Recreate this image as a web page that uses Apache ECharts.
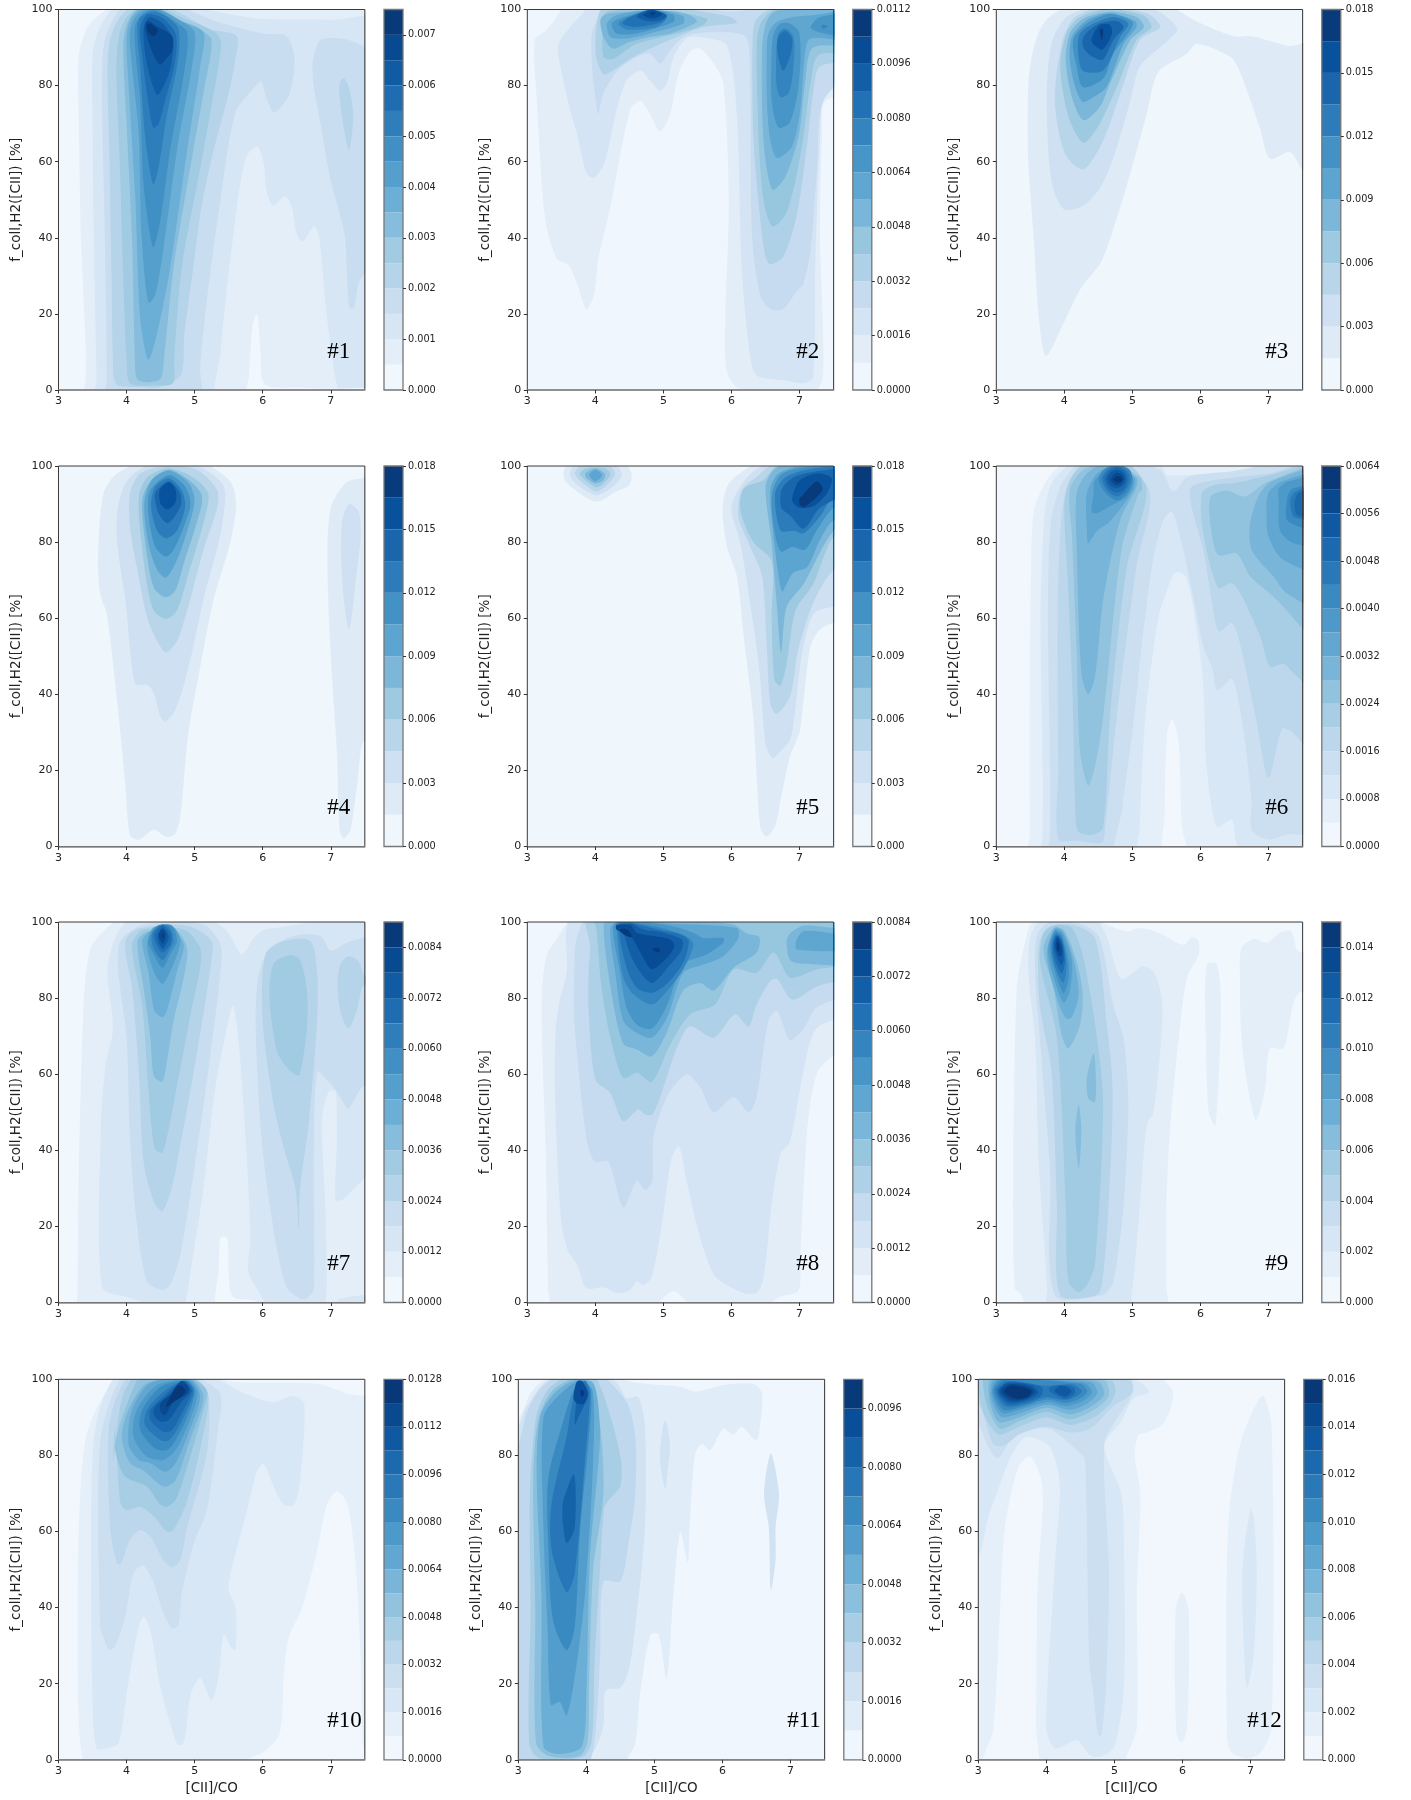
<!DOCTYPE html>
<html><head><meta charset="utf-8">
<style>html,body{margin:0;padding:0;background:#fff}#c{width:1411px;height:1800px}</style>
<script src="https://cdn.jsdelivr.net/npm/echarts@6/dist/echarts.min.js"></script></head>
<body><div id="c"></div>
<script>
// Each contour: [bandIndex, x1,y1, x2,y2, ...] in data units ([CII]/CO, f_coll %), painted in order over band 0.
const xTicks=[3,4,5,6,7];
const yTicks=[0,20,40,60,80,100];
const labels=['#1','#2','#3','#4','#5','#6','#7','#8','#9','#10','#11','#12'];
const cbStep=[0.0005,0.0008,0.0015,0.0015,0.0015,0.0004,0.0006,0.0006,0.001,0.0008,0.0008,0.001];
const cbBands=[15,14,12,12,12,16,15,14,15,16,13,16];
const cbTicks1=[0,0.001,0.002,0.003,0.004,0.005,0.006,0.007];
const cbTicks2=[0,0.0016,0.0032,0.0048,0.0064,0.008,0.0096,0.0112];
const cbTicks3=[0,0.003,0.006,0.009,0.012,0.015,0.018];
const cbTicks4=[0,0.003,0.006,0.009,0.012,0.015,0.018];
const cbTicks5=[0,0.003,0.006,0.009,0.012,0.015,0.018];
const cbTicks6=[0,0.0008,0.0016,0.0024,0.0032,0.004,0.0048,0.0056,0.0064];
const cbTicks7=[0,0.0012,0.0024,0.0036,0.0048,0.006,0.0072,0.0084];
const cbTicks8=[0,0.0012,0.0024,0.0036,0.0048,0.006,0.0072,0.0084];
const cbTicks9=[0,0.002,0.004,0.006,0.008,0.01,0.012,0.014];
const cbTicks10=[0,0.0016,0.0032,0.0048,0.0064,0.008,0.0096,0.0112,0.0128];
const cbTicks11=[0,0.0016,0.0032,0.0048,0.0064,0.008,0.0096];
const cbTicks12=[0,0.002,0.004,0.006,0.008,0.01,0.012,0.014,0.016];
const cbDigits=[3,4,3,3,3,4,4,4,3,4,4,3];

const contours1=[
[1,3.4,-4,3.4,3,3.4,12,3.33,40,3.3,70,3.3,88,3.45,96,3.8,101,4.2,104,7.9,104,7.9,-4],
[2,3.56,-4,3.56,3,3.55,12,3.52,40,3.5,70,3.5,88,3.6,95,3.85,101,4.5,104,5.2,100,5.6,98.5,6,97.5,7,97.3,7.9,96.8,7.9,-4],
[1,5.35,-4,5.38,10,5.57,41,5.75,61,5.92,64,6.01,60,6.06,52,6.16,48.5,6.33,51,6.43,48,6.5,41,6.59,39,6.75,43,6.83,40,6.92,23.5,7,11,7.04,6,7.07,-4],
[0,5.78,-4,5.8,4,5.85,17,5.92,20,5.97,10,6.03,1.5,6.6,0.6,7.1,0.4,7.5,0.6,7.9,0.8,7.9,-4],
[3,3.71,-4,3.71,3,3.7,20,3.67,50,3.64,80,3.68,92,3.9,100,4.3,104,4.9,100,5.3,97,6,93.7,6.35,93,6.47,87,6.4,78,6.25,74,6.15,73,6.05,77,5.97,81,5.85,79,5.6,73,5.38,50,5.18,23.5,5.08,6,5.07,-4],
[3,6.74,87,6.85,92,7.04,92.5,7.34,91.5,7.9,85,7.9,40,7.43,29,7.34,21.5,7.27,21.7,7.2,41,7,55,6.85,70,6.74,81],
[4,7.13,80.5,7.19,82,7.27,79.5,7.33,72,7.27,63,7.19,69,7.13,77],
[4,4.2,0.8,3.85,1.5,3.8,8,3.78,30,3.75,60,3.72,85,3.77,93,3.95,99,4.3,102,4.8,99,5.2,95,5.62,93,5.6,87,5.5,78,5.28,63,5.1,48,4.98,32,4.85,15,4.8,4,4.5,0.8],
[5,4.4,1.2,4.05,1.8,4,8,3.95,30,3.9,60,3.85,85,3.9,94,4.05,99,4.35,101.5,4.8,98,5.3,94,5.39,91,5.25,75,5.08,58,4.81,32,4.7,8,4.68,1.8],
[6,4.3,2,4.15,3,4.12,10,4.08,40,4,70,3.95,90,4,96,4.15,100,4.4,101,4.8,97,5.1,94.5,5.25,92,5.15,80,4.98,63,4.69,32,4.55,8,4.5,3],
[7,4.32,8,4.2,19,4.13,50,4.03,80,4,93,4.08,98,4.3,100.8,4.8,97,5.13,94,5.08,85,4.89,63,4.64,32,4.45,15],
[8,4.32,23,4.22,41,4.18,67,4.08,85,4.05,94,4.15,98.5,4.4,100.4,4.8,97,5,94,4.96,85,4.74,63,4.54,37,4.42,25],
[9,4.39,37.5,4.25,54,4.2,76,4.13,89,4.13,96,4.25,99,4.4,100,4.7,97,4.89,94,4.86,85,4.64,63,4.5,45],
[10,4.39,54,4.27,67,4.2,85,4.16,94.5,4.2,98,4.4,99.5,4.6,98,4.76,95,4.76,87,4.59,72,4.47,58.5],
[11,4.39,69,4.3,78,4.23,88,4.2,95,4.3,98.7,4.55,97.5,4.73,93,4.7,85,4.55,75,4.47,70],
[12,4.45,77.5,4.32,84,4.25,92,4.27,96.5,4.35,98,4.55,96,4.68,92,4.65,85,4.55,80],
[13,4.49,85.5,4.35,90,4.27,95.5,4.32,97,4.45,95.5,4.67,93,4.67,89,4.6,87.5],
[14,4.3,96,4.35,96.2,4.46,94.5,4.4,93,4.32,94]
];
const contours2=[
[1,3.11,92,3.14,76,3.26,45.4,3.43,34.5,3.6,33,3.73,28,3.87,21.3,3.98,25,4.04,34,4.22,48,4.51,73.5,4.66,76,4.8,72.6,4.95,68,5.1,72.6,5.22,83,5.39,89,5.54,89.7,5.74,85.8,5.88,80.5,5.96,50,5.91,19,5.93,5,6.13,0.3,7.25,0.1,7.35,6,7.3,41,7.33,67,7.38,76,7.9,78,7.9,104,3.6,104,3.5,100,3.28,94.5],
[2,3.46,87.5,3.63,73.5,3.73,67.4,3.87,57,3.98,55.7,4.14,60,4.31,73.5,4.46,81.4,4.66,84,4.8,81.4,4.95,78.6,5.05,80.5,5.15,87.5,5.34,92.4,5.59,92.6,5.93,90.6,6.08,72,6.15,32,6.27,9.5,6.37,3.8,6.81,2.5,7.06,1.8,7.2,3.3,7.23,32,7.3,65.6,7.4,81.4,7.9,84,7.9,104,3.85,104,3.85,100,3.63,95.4,3.46,91],
[3,3.95,93.7,3.95,85,4,77,4.04,72.6,4.12,78,4.31,83.6,4.6,87.5,4.8,88.4,4.95,85.8,5.1,89.3,5.3,92.8,5.69,94,6.2,93,6.27,85,6.3,41,6.42,25,6.57,21.3,6.76,21.3,6.96,26,7.06,28,7.16,36.7,7.26,58.6,7.35,76,7.9,87,7.9,104,6.3,100,5.9,99.5,4.2,104,4.07,99],
[4,4.02,96.3,4.01,87.5,4.12,83,4.26,84,4.51,87,4.8,89.7,5.2,92.8,5.59,95.4,6.08,96.5,5.98,98,5.59,99.4,5.1,100.5,4.12,100.5],
[5,4.07,97.2,4.1,93.7,4.12,87.5,4.26,87,4.56,90.6,4.8,92,5.2,93.7,5.59,96,5.64,97.6,5.1,99.6,4.2,99.6],
[6,4.08,97.5,4.12,92.8,4.26,89.7,4.51,91.5,4.8,92.8,5.1,93.7,5.49,96.8,5.39,98.5,5.1,99.6,4.2,99],
[7,4.17,96.3,4.22,92.8,4.46,92.4,4.8,93.7,5.29,96.3,5.29,98.2,4.9,99.9,4.31,98.5],
[8,4.24,96.3,4.31,93.7,4.6,93.7,5.15,96.8,5.15,98.5,4.85,99.8,4.41,98],
[9,4.34,96.3,4.46,94.7,4.9,95.4,5.05,98,4.8,99.5,4.46,97.9],
[10,4.4,96.3,4.56,95.4,4.95,96.5,5.05,98.2,4.8,99.8,4.51,98],
[11,4.61,98,4.75,97,4.95,97.2,5.05,98.5,4.83,100,4.66,99],
[12,4.7,98.5,4.85,97.6,4.98,98.8,4.83,99.8],
[13,4.8,99,4.84,98.6,4.88,99,4.84,99.3],
[4,6.31,92,6.32,67,6.42,45,6.5,35,6.57,33,6.76,35,6.96,46,7.1,63,7.2,78,7.3,85,7.9,87.5,7.9,104,6.9,103,6.5,99.5,6.35,97],
[5,6.37,91,6.4,65.6,6.47,50,6.6,43,6.79,46,6.94,55,7.06,67,7.16,80.5,7.28,88,7.9,89.3,7.9,104,6.9,103,6.55,99,6.42,96],
[6,6.45,90,6.47,65.6,6.6,52.7,6.79,56,6.99,67,7.08,80.5,7.2,90,7.9,91,7.9,102,6.9,101,6.6,99,6.5,96],
[7,6.52,91,6.52,76,6.57,65.6,6.67,61,6.89,64,7.01,73.5,7.08,88.4,7.16,92.4,7.9,92,7.9,99.5,7.2,98.5,6.9,98,6.65,96.5,6.55,94],
[8,6.59,89,6.59,76,6.69,69,6.86,70.4,6.99,80.5,7,93.7,6.86,96.3,6.72,96.3,6.62,93.7],
[8,7.16,95.4,7.3,98,7.9,98.8,7.9,92.5,7.35,93.7,7.2,94.6],
[9,6.66,89,6.66,80.5,6.72,77,6.84,78,6.91,85,6.91,92.8,6.79,95,6.69,93.7],
[10,6.76,83.9,6.87,88.4,6.89,92.4,6.79,94.4,6.69,92.8,6.67,89.3],
[9,7.33,96,7.42,95.5,7.33,95]
];
const contours3=[
[1,3.73,9,3.62,20,3.55,40,3.47,60,3.47,80,3.55,90,3.72,97,4.1,101,5.5,101,5.95,96.8,6.49,93,6.75,93,7.07,91.5,7.32,90.4,7.9,92,7.9,55,7.5,58,7.32,62.5,7.02,60.8,6.87,69,6.58,83.6,6.44,87.5,5.95,91,5.8,88.4,5.38,83.6,5.21,72.6,4.97,57,4.82,48,4.55,34,4.25,27,4,18],
[2,4.28,48.5,3.99,47.5,3.81,55,3.74,76,3.81,91,4.03,98,4.38,100.3,5.31,100,5.66,95,5.5,91.5,5.11,85,4.97,76,4.72,61,4.52,53],
[3,4.28,58,4.01,62,3.86,76,3.96,91,4.13,97.6,4.52,100.5,5.21,99,5.41,95.4,5.11,92,4.87,80.5,4.57,65.6],
[4,4.28,65,4.06,71.8,3.94,85,4.03,93.7,4.23,98,4.62,100,5.16,98.5,5.28,95.4,5.06,92,4.77,79.6,4.52,70],
[5,4.28,70.9,4.11,77,4.02,86.7,4.08,93.7,4.28,97.6,4.67,99.4,5.06,98,5.17,95.4,4.97,92,4.67,80.5,4.52,74.4],
[6,4.27,75.7,4.16,79.6,4.08,86.7,4.11,92.8,4.33,97.2,4.67,99,5.04,97,5.06,95.4,4.87,91,4.62,79.6,4.43,77],
[7,4.27,79.6,4.18,85,4.13,92,4.33,96.3,4.67,98.8,5,96.8,4.97,94.6,4.72,88.4,4.57,81.8],
[8,4.27,83.9,4.2,89.3,4.23,93.7,4.43,96.3,4.72,98,4.94,96.3,4.82,92.8,4.57,84],
[9,4.28,90,4.28,92.8,4.48,96,4.77,97,4.87,95.4,4.72,92,4.56,86.8,4.38,88],
[10,4.4,92.4,4.52,95.9,4.67,95.9,4.7,93.7,4.56,89.5,4.42,91],
[11,4.52,94.6,4.56,95,4.57,93.7,4.55,92]
];
const contours4=[
[1,4.18,1.8,4.05,3,3.98,16.6,3.86,38.5,3.71,61,3.61,66.5,3.58,76,3.66,92.8,3.86,98,4.25,101,5.08,101,5.52,96,5.61,90,5.52,79.7,5.28,65,5.08,47,4.91,30,4.79,8,4.72,3.5,4.59,2.5,4.4,4.4],
[1,7.19,2.2,7.13,4.4,7.09,25,7,50,6.95,76,7,89,7.19,95,7.36,96.5,7.9,96.5,7.9,20,7.5,28,7.39,16.6,7.29,4.4],
[2,7.27,57,7.17,69,7.16,85,7.27,90,7.41,88,7.44,82,7.39,73.5],
[2,4.57,32.8,4.5,34,4.4,40.3,4.3,42.5,4.14,42.5,4.08,47,3.98,65,3.86,80,3.87,89,4,96,4.3,100,5.03,100,5.38,96,5.45,92.8,5.38,82,5.13,65,4.91,47,4.72,36],
[3,4.58,51,4.45,54,4.3,60.4,4.15,73.5,4.05,84,4.05,92.8,4.2,98,4.59,100,5.03,99,5.33,93.7,5.33,89,5.13,78,4.89,62,4.74,54],
[4,4.58,59.8,4.4,62,4.3,69,4.2,83,4.18,92,4.3,97,4.62,99.4,4.98,97,5.2,92.8,5.13,85,4.94,73.5,4.74,62],
[5,4.58,65.5,4.4,68,4.27,80.5,4.23,91,4.35,96,4.62,99,4.94,96,5.11,92,5.03,85,4.84,74.4,4.72,67.4],
[6,4.58,70.7,4.45,72.7,4.32,79.7,4.26,90,4.37,96.3,4.62,98.8,4.91,95.6,5,91,4.91,84,4.74,75.3],
[7,4.58,76.2,4.42,78.8,4.32,87.6,4.35,93.7,4.62,97.6,4.86,94.6,4.94,90,4.84,84,4.69,78],
[8,4.58,81,4.45,83,4.36,89.3,4.42,94.6,4.62,96.8,4.81,93.7,4.86,89.3,4.74,83],
[9,4.61,85,4.47,87.6,4.42,92.8,4.62,96,4.79,92.8,4.79,89.3],
[10,4.61,88.6,4.5,90,4.49,93.7,4.62,95.7,4.72,93.7,4.72,90.6]
];
const contours5=[
[1,4.02,90.6,3.73,93.3,3.55,96.3,3.54,99,3.63,101,4.41,101,4.53,98,4.5,95,4.31,93.3],
[2,4.02,92.3,3.77,94.6,3.63,97.3,3.68,100,4.31,100,4.39,97.6,4.26,94.6],
[3,4.02,93.3,3.85,95,3.7,97.8,3.77,99.8,4.22,99.8,4.29,97.8,4.17,95],
[4,4.01,94.4,3.85,96.3,3.77,98,3.87,99.4,4.14,99.4,4.22,97.8,4.12,95.4],
[5,4.01,95.4,3.87,96.8,3.85,98,4,99.4,4.14,98,4.12,96.3],
[6,4,96,3.91,97.6,4,99,4.1,97.6],
[1,6.51,2.6,6.42,5.3,6.32,34,6.18,55,6.08,71,5.93,79,5.87,89.3,5.96,95.4,6.23,99.4,6.37,101,7.9,104,7.9,58,7.5,58.7,7.3,57,7.16,52.5,7.06,38.5,7,30,6.86,23.6,6.72,12,6.64,5.3],
[2,6.6,23.2,6.5,27,6.4,48,6.23,69,6.13,79.7,6,89.3,6.23,97,6.57,101,7.9,104,7.9,63,7.5,63,7.2,61,7.03,50,6.93,35,6.86,28,6.69,24.5],
[3,6.66,34.8,6.57,37.6,6.52,51.7,6.45,71,6.27,79,6.1,86.7,6.15,93.7,6.37,97.2,6.62,100.5,7.9,104,7.9,75,7.5,72.7,7.2,64,6.98,51.7,6.86,39.4],
[4,6.72,42.3,6.63,43.8,6.59,60.4,6.59,75,6.32,80,6.13,88.4,6.18,94,6.47,96.3,6.67,100,7.9,104,7.9,85,7.5,81.4,7.2,69,6.94,62,6.81,48],
[5,6.73,51,6.66,64.8,6.59,79.7,6.5,94.6,6.62,99,6.81,100.5,7.9,102,7.9,86,7.5,83,7.06,69,6.81,63],
[6,6.74,67,6.64,78,6.57,93.7,6.69,98,7.01,100,7.9,101,7.9,88,7.5,85.8,7.3,80.6,7.11,73.4,6.91,72,6.81,69],
[7,6.73,77.5,6.64,82,6.59,92,6.72,97.6,7.06,99.6,7.9,100.2,7.9,92,7.5,89,7.25,83,7.08,78,6.89,78.8],
[8,6.72,83,6.64,92.8,6.79,97,7.16,99.2,7.9,99.6,7.9,94,7.5,92,7.3,86.7,7.06,82.3,6.91,83],
[9,6.73,89,6.74,94,6.91,97,7.25,98.6,7.9,99.2,7.9,95,7.3,89,7.06,83.5,6.86,87],
[10,6.89,91,6.99,96,7.25,98,7.47,96.8,7.4,92.8,7.2,89.4,7,89],
[11,7,91.5,7.04,92.2,7.25,96,7.34,94,7.25,91.8,7.06,89.2,7,90]
];
const contours6=[
[1,3.49,-4,3.49,3,3.49,12,3.49,40,3.51,70,3.55,88,3.75,96.5,4,101,4.3,104,7.9,104,7.9,-4],
[2,3.68,-4,3.68,3,3.68,20,3.65,60,3.7,85,3.8,95,4.1,101,4.4,104,5.4,100.5,5.52,97.6,6.4,98.5,7.9,100,7.9,-4],
[3,3.79,-4,3.79,3,3.79,20,3.76,60,3.8,85,3.95,95,4.2,101,4.4,104,5.4,99,5.6,93.3,5.8,97,6.3,98.3,7.9,99,7.9,-4],
[2,4.79,-4,4.85,10,5,30,5.15,55,5.3,75,5.45,85.5,5.58,88,5.72,80,5.9,65,6.05,52,6.17,47,6.25,41,6.46,44,6.6,34,6.75,12,6.75,4.4,7,1.8,7.3,3.2,7.9,1.5,7.9,-4],
[1,5.11,-4,5.11,5.3,5.19,34,5.38,60,5.51,67.4,5.63,72,5.78,71,5.9,62,6.04,43,6.09,21,6.24,5.2,6.46,7,6.51,1.8,6.6,-4],
[0,5.45,-4,5.47,8,5.51,30,5.59,33.4,5.68,27,5.73,5,5.83,-4],
[4,4.55,1,4.2,1.5,3.91,2,3.91,20,3.9,60,3.95,85,4.05,95,4.3,101,4.9,100,5.26,92.8,5.06,73.5,4.77,34,4.6,5],
[4,5.87,94.6,5.86,90,6.04,78,6.16,65,6.27,56.5,6.46,58.7,6.57,54,6.81,34,7,18,7.2,31,7.35,30,7.9,20,7.9,101,7,98,6.3,96.5],
[5,6.02,92.8,6.04,82.3,6.26,67.9,6.46,69.2,6.61,65.7,6.88,55,7.02,47.3,7.22,48,7.37,45.5,7.9,38,7.9,100,7,97.5,6.5,95.5,6.2,95],
[6,6.15,92,6.15,84,6.26,76.6,6.53,77,6.73,71,7.07,65.7,7.9,52,7.9,99.5,7,96,6.65,92,6.4,93.5],
[7,6.73,85,6.75,78,7.07,71,7.27,66.5,7.9,62,7.9,99,7.05,96,6.85,92],
[8,6.97,88.4,7,81.4,7.22,75.3,7.9,72,7.9,98,7.2,96,7,93],
[9,7.15,91,7.17,83,7.37,79.7,7.9,79,7.9,97,7.3,96,7.15,94],
[10,7.27,91,7.29,85.4,7.9,83,7.9,95,7.35,94],
[11,7.32,90,7.38,86.5,7.9,86,7.9,94,7.5,94,7.35,92.5],
[12,7.38,90,7.43,87,7.9,86.5,7.9,93,7.5,93.3,7.42,92.5],
[5,4.4,3,4.2,4,4.16,10,4.12,40,4.05,70,4,90,4.1,97,4.35,101,4.9,101,5.21,93.7,4.92,73.5,4.67,34,4.57,5],
[6,4.35,16,4.23,25,4.18,51.7,4.11,82,4.08,93.7,4.28,99,4.7,100.5,5.11,97,5.14,93.7,5.09,92.8,4.84,78,4.57,34,4.45,21],
[7,4.35,40,4.25,45.5,4.18,80,4.18,92.8,4.33,98,4.6,100.5,5.06,97,5.06,94.5,4.82,85.8,4.57,64.8,4.45,44.6],
[8,4.35,79.7,4.33,83.2,4.33,92.8,4.48,98,4.77,100.3,5.03,97,5.01,93.7,4.67,85.4,4.48,83],
[9,4.4,88,4.43,92.8,4.45,96.3,4.77,100,5.01,96.3,4.92,92,4.65,89.3,4.48,87.6],
[10,4.5,96.5,4.58,99,4.77,100.5,4.96,99,5,96.5,4.93,93,4.77,91,4.6,93],
[11,4.55,96.5,4.62,98.8,4.77,100,4.92,98.8,4.97,96.5,4.9,93.5,4.77,92,4.63,93.5],
[12,4.59,96.5,4.65,98.6,4.77,99.6,4.89,98.6,4.93,96.5,4.88,94,4.77,93,4.66,94],
[13,4.63,96.5,4.68,98.3,4.77,99,4.86,98.3,4.9,96.5,4.85,94.8,4.77,94.2,4.68,94.8],
[14,4.68,96.5,4.72,97.7,4.77,98.2,4.84,97.7,4.87,96.5,4.83,95.4,4.77,95,4.72,95.4],
[15,4.72,96.5,4.76,97.2,4.82,97.2,4.85,96.5,4.82,95.8,4.76,95.8]
];
const contours7=[
[1,3.28,-4,3.28,2,3.3,35,3.37,78,3.47,93,3.75,99,4.2,104,7.9,104,7.9,-4],
[2,3.64,4,3.62,45,3.69,62,3.8,72,3.72,88,3.9,98,4.3,104,5.3,100,5.5,97,5.7,91.5,5.9,96.5,6.1,98.3,7.9,98.5,7.9,-4,5,-4,4,1.5],
[1,4.88,-4,4.9,3,5.13,30,5.3,56,5.52,76,5.57,78,5.65,68,5.75,43,5.82,17,5.79,8,5.97,2,6.1,-4],
[1,6.92,-4,6.94,3.7,6.92,25.7,6.87,47.6,6.97,55.5,7.07,55.5,7.09,43,7.07,27,7.17,27,7.29,29,7.41,31,7.9,40,7.9,2,7.5,2,7.1,0.5,7.1,-4],
[0,5.35,-4,5.3,1,5.35,8,5.38,17,5.48,17,5.5,8,5.56,1.5,5.9,0.3,6,-4],
[3,4.52,3.3,4.3,5.5,4.15,21,4.05,43,4,69.6,3.88,87,3.91,95,4.25,99.3,5.13,99.3,5.38,94,5.38,87,5.23,65,4.99,34.5,4.79,12.5,4.64,4.6],
[3,6.55,1,6.36,3.8,6.2,15,6,40,5.9,70,5.93,85,6.1,93,6.5,96.5,6.85,96.3,7,92.5,7.3,95,7.9,96,7.9,55,7.5,57,7.26,51,7.17,53,7.07,56,6.97,58,6.8,60.7,6.75,34.5,6.75,3.8,6.65,1],
[4,6.53,19,6.48,30,6.31,40.6,6.16,52,6,74,6.04,91.5,6.31,95,6.7,95,6.8,87,6.8,74,6.68,47.6,6.55,30],
[5,6.5,59.7,6.36,61.6,6.21,66,6.1,80,6.16,89,6.41,91.3,6.55,90,6.65,82,6.65,72,6.55,60],
[4,7.26,72,7.14,76.5,7.1,83.5,7.14,88.8,7.26,91,7.41,89.7,7.5,86,7.9,84,7.9,78,7.5,83.5,7.38,76.5],
[4,4.52,24,4.4,26.5,4.25,37,4.18,60.7,4.08,82.6,3.98,95,4.2,98.4,4.89,99,5.25,95,5.24,89,5.03,65,4.72,34.5,4.62,27.5],
[5,4.52,39.3,4.41,40.6,4.32,56.4,4.23,78,4.08,94,4.25,98,4.84,98,5.08,93.3,5.08,88,4.94,75.7,4.69,52,4.57,41.5],
[6,4.52,58,4.4,59.5,4.35,69.5,4.25,82.7,4.16,95,4.32,97.6,4.74,97.6,4.89,93,4.84,85.3,4.69,74,4.57,60.8],
[7,4.53,75,4.41,76.6,4.32,87,4.23,95,4.35,97.6,4.69,97.6,4.84,94,4.74,87,4.59,76.6],
[8,4.53,83.8,4.4,87,4.3,94,4.4,98.6,4.69,98.6,4.79,95,4.69,89],
[9,4.53,88,4.4,91.5,4.32,95,4.45,99,4.67,99,4.74,95,4.64,91.5],
[10,4.53,90,4.4,93,4.37,96.7,4.5,99.2,4.64,98.5,4.69,95,4.62,92.4],
[11,4.53,92,4.43,94.5,4.41,97,4.53,99.2,4.65,97,4.64,94],
[12,4.53,93,4.45,96,4.53,98.6,4.62,96],
[13,4.53,94.3,4.47,96.5,4.53,98.2,4.58,96.5],
[14,4.52,96,4.53,97,4.55,96]
];
const contours8=[
[1,3.45,-4,3.32,1.5,3.3,10,3.27,40,3.21,78,3.28,91,3.45,96,3.6,100,3.9,104,7.9,104,7.9,-4],
[0,6.47,-4,6.67,1.2,6.98,3,7.01,11.7,7.11,45,7.25,60,7.5,65,7.9,68,7.9,-4],
[0,4.8,-4,5.15,3,5.45,-4],
[2,3.41,69.5,3.41,52,3.5,21,3.6,13.4,3.73,10,3.87,3.8,4.12,4,4.31,2.5,4.51,3.3,4.61,5.5,4.7,4.6,4.83,6.8,4.98,21,5.12,38,5.23,41,5.34,32,5.54,17,5.74,7.3,5.93,4.6,6.18,2.5,6.37,2.5,6.47,6.4,6.59,25.7,6.72,39,6.86,42.4,7.06,61,7.25,72,7.9,78,7.9,104,4,104,3.6,100,3.58,87,3.46,78],
[3,3.69,74,3.87,43,3.99,37,4.19,37,4.41,25,4.61,32,4.73,29.6,4.84,32,4.85,43,5.05,54,5.34,60,5.54,56.5,5.74,50,6.03,54,6.25,50,6.37,54,6.54,74,6.67,76.6,6.86,69,7.06,72,7.25,77.5,7.9,83,7.9,104,4,104,3.73,96,3.69,87],
[4,3.9,76.6,4,58.6,4.22,55,4.41,47.6,4.63,50.7,4.73,49.4,4.84,49.4,4.98,55.5,5.2,67,5.39,72.6,5.74,69.6,6.05,75.7,6.25,72.6,6.37,78.3,6.57,84.5,6.67,85,6.89,79.6,7.25,83,7.9,87,7.9,104,4,104,3.85,101,3.92,94,3.9,87],
[5,4.02,97.6,4.09,82.7,4.22,69.6,4.41,59,4.61,60.4,4.83,58,5.1,67.8,5.39,75.7,5.76,78.3,6.03,87.5,6.37,86.7,6.62,92,6.86,85.4,7.25,87.5,7.9,90,7.9,101,5,100.6,4,102],
[6,4.12,98.4,4.24,81,4.41,68,4.61,66.5,4.83,64.7,5.05,71,5.29,82,5.54,84,5.74,82,6.03,88,6.37,92,6.41,96,6.23,97,6,99.5,5,100.3,4.2,102],
[6,6.81,95,6.86,90,7.06,89,7.9,89.5,7.9,99,7.5,98.5,7.06,99,6.86,97],
[7,4.22,98.4,4.29,87,4.41,74,4.61,70.8,4.83,69.6,5.05,74.8,5.29,86.6,5.59,88.8,5.88,91,6.1,95.8,6.08,98.4,5.1,99.6,4.37,100.5],
[7,6.95,95,6.96,92.8,7.9,92.8,7.9,96,7.5,97,7.06,97.6],
[8,4.26,98.4,4.36,87,4.46,77.4,4.61,73,4.83,72,5.05,78,5.29,88.8,5.64,91.5,5.88,94.6,5.88,95.8,5.59,95.8,5.44,97.2,5.1,99,4.37,100.5],
[9,4.31,99.5,4.41,85.4,4.56,81,4.83,78.3,5.05,81.8,5.29,87.5,5.44,94,5.34,96.2,5,98.3,4.37,100.3],
[10,4.34,99,4.46,88,4.61,82.7,4.83,81.4,5.05,83.8,5.29,89.3,5.37,95,5.24,96.8,4.95,97.9,4.43,100],
[11,4.41,98.5,4.56,89.7,4.83,84,5.1,88.8,5.27,92.8,5.27,95.4,5,97.2,4.71,98,4.51,99.6],
[12,4.53,96,4.66,92,4.83,87.6,5.05,90.6,5.16,93.7,5.1,95.4,4.85,96.3,4.61,97.2,4.51,99.2,4.31,99.2,4.31,98],
[13,4.36,98,4.41,96.8,4.53,96,4.51,97.2,4.44,98.2],
[13,4.84,92.8,4.93,92,4.95,92.8,4.87,93.2]
];
const contours9=[
[1,3.55,-4,3.35,2.5,3.27,3.8,3.25,34.5,3.3,82.6,3.4,93,3.52,100,3.8,104,4.52,100,4.92,97.5,5.11,98.4,5.41,97,5.75,94,5.87,96,5.97,95,5.97,91.4,5.8,85.3,5.68,69.5,5.55,45,5.5,25.7,5.5,3.8,5.5,-4],
[1,6.82,48,6.7,56,6.6,70,6.58,85,6.6,93,6.78,95.5,6.98,94.5,7.15,97,7.33,97.6,7.42,92.5,7.5,92,7.9,90,7.9,70,7.5,81.8,7.37,79,7.22,66.8,7.02,66.8,6.95,56.3],
[1,6.09,88.7,6.24,89,6.3,78,6.22,46.7,6.12,50,6.08,69.5],
[2,3.75,-4,3.75,3.8,3.63,35,3.57,69,3.47,87,3.5,96,3.65,100.5,4.3,104,4.6,97,4.84,85,5.14,88.3,5.31,87,5.43,80,5.43,71,5.31,50,5.21,46.7,5.11,25.7,4.99,2,4.9,-4],
[3,3.86,2,3.79,34.5,3.64,69.5,3.57,87,3.6,96.6,3.79,100,4.28,99.2,4.52,95.7,4.72,78,4.87,69.5,4.94,52,4.87,25.7,4.72,5.5,4.57,2],
[4,3.94,2,3.89,25.7,3.81,60.7,3.64,78,3.62,93,3.74,98.4,4.13,99.2,4.45,95.7,4.62,74,4.71,55.4,4.65,25.7,4.56,5.5,4.48,2],
[5,4.21,2.7,4.06,5.5,4.02,25.7,3.89,69.5,3.64,89.6,3.69,96.7,3.86,99.2,4.11,98.4,4.28,90.6,4.48,69.5,4.57,52,4.45,10,4.33,4.6],
[6,4.06,66.8,3.96,70.3,3.84,82.7,3.69,93,3.84,98.4,3.99,98,4.18,89.7,4.27,81,4.23,73],
[6,4.43,65.5,4.33,59,4.35,53.7,4.45,52.7,4.46,60.7],
[6,4.21,52,4.16,45,4.21,35.3,4.25,45],
[7,4.02,74.7,3.89,80,3.74,91.4,3.86,98.4,3.98,97.6,4.13,90.6,4.21,81,4.11,75],
[8,3.99,78.8,3.89,82.7,3.76,92.4,3.86,98,3.98,97,4.11,89.7,4.08,81.8],
[9,3.99,81.3,3.89,85.3,3.79,93,3.86,97.6,3.96,96.6,4.06,89.7,4.06,84.8],
[10,3.98,84,3.86,88.3,3.81,93.3,3.87,97,3.96,96,4.03,90,4.02,86],
[11,3.96,86.5,3.86,90,3.83,94,3.88,96.6,3.96,95.3,4.01,89.7],
[12,3.95,88.7,3.86,92.2,3.85,94.8,3.9,96.4,3.97,94,3.99,90],
[13,3.93,90.9,3.87,93.5,3.9,95.9,3.96,93.5,3.96,91.3],
[14,3.89,93,3.9,94.8,3.93,93.5,3.91,92.2]
];
const contours10=[
[1,3.5,-4,3.32,4.3,3.28,39,3.32,70,3.42,86,3.71,97,4,100,4.3,104,5.1,103,5.5,99.5,6.8,98.8,7.24,96.3,7.9,93,7.9,-4],
[0,5.6,-4,5.77,0,6.01,2,6.25,7,6.31,22,6.38,32,6.58,40,6.8,55,6.95,67.4,7.09,70.5,7.24,67.4,7.36,52.5,7.44,26,7.47,5,7.5,-4],
[2,3.56,3,3.71,3,3.88,4.3,3.98,14.8,4.08,26,4.18,35,4.25,37.6,4.35,34,4.5,19,4.74,4.3,4.84,4.3,4.94,17,5.08,21.4,5.25,15.7,5.35,21.8,5.43,33,5.53,29.7,5.6,28.8,5.6,40,5.5,44.6,5.55,50.7,5.77,65.6,5.92,76,6.02,77.7,6.16,71.8,6.31,67,6.46,67,6.55,73.5,6.61,93.7,6.45,95.6,6.14,94,5.67,96.8,5.33,100,4.3,104,3.85,101,3.6,92,3.5,80,3.48,50,3.5,15],
[3,3.74,29,3.83,29.7,3.98,37.6,4.1,49,4.25,51,4.4,46.4,4.54,38.5,4.67,34.5,4.76,35.4,4.81,43.7,4.99,57,5.18,65.6,5.35,87.6,5.38,96,5.1,100,4.3,104,3.9,100,3.61,83,3.61,35,3.66,32.3],
[4,3.86,51.6,3.92,51.6,4.05,57.8,4.2,60.4,4.35,58.6,4.54,52.5,4.67,50.6,4.79,52.5,4.89,61,5.18,80.5,5.2,96,5.03,100,4.3,104,3.95,99,3.74,87.5,3.76,61],
[5,3.91,67.4,4,65.6,4.2,66.5,4.4,64,4.59,60,4.69,60.4,4.89,68,5.13,85.8,5.2,96,5.03,99.8,4.3,104,3.95,96,3.81,78.8,3.83,87.5],
[6,3.98,74.4,4.15,73,4.3,71.8,4.5,67,4.59,66.5,4.72,68.3,4.89,77,5.13,92,5.18,97,4.99,100,4.3,103,4.03,94.6,3.83,83,3.88,78],
[7,4.05,78,4.25,76,4.54,71.8,4.72,73.5,4.91,83,5.13,95.4,4.96,99.8,4.3,99,4.03,92,3.93,85],
[8,4.18,78.8,4.35,78,4.57,75.7,4.72,78,4.91,85.8,5.08,95.4,4.94,99.8,4.35,99,4.08,92,4.03,83],
[9,4.3,79.7,4.54,78.8,4.72,81.4,4.91,88.4,5.04,96.3,4.91,99.6,4.45,98.5,4.15,92,4.1,85],
[10,4.42,81.8,4.59,81.4,4.72,84,4.89,90,5,96.8,4.89,99.6,4.5,98,4.23,92,4.2,86.7],
[11,4.5,84,4.62,84,4.74,86.7,4.89,92,4.99,97,4.86,99.6,4.56,97,4.3,92,4.27,88],
[12,4.54,86.2,4.67,86.7,4.81,91,4.96,97,4.84,99.6,4.59,96.3,4.35,92,4.35,89.3],
[13,4.5,88.9,4.62,89.3,4.79,93.7,4.94,97,4.81,99.6,4.64,96.3,4.42,92.8,4.4,90.6],
[14,4.57,90.6,4.67,93.7,4.89,96.3,4.91,98,4.81,99.4,4.67,96.3,4.5,93.7,4.5,91.5],
[15,4.58,92.8,4.72,94.4,4.84,96,4.86,97.4,4.76,98.5,4.67,96.3]
];
const contours11=[
[1,2.8,-4,2.8,88,3.02,90,3.17,96,3.37,99.6,4.2,104,4.59,99.6,5.38,98,5.62,96.8,6.01,98.5,6.45,98.8,6.58,96.3,6.53,85,6.48,84,6.28,87.5,6.16,85.4,6.01,87,5.82,81.4,5.7,83,5.6,80.5,5.52,63,5.49,52,5.38,60,5.28,43.7,5.18,21.4,5.06,33,4.94,32.8,4.79,17.4,4.72,4.3,4.62,0.8,4.5,-4],
[2,2.8,-4,2.8,90,3,88,3.1,92,3.28,97,3.45,100,4,104,4.45,99,4.59,95,4.76,95.4,4.86,87.5,4.86,61,4.72,35,4.62,23.5,4.5,19,4.28,18.1,4.25,9,4.1,2,3.9,0.5,3.8,-4],
[2,5.16,89.3,5.23,83,5.2,77,5.16,71.3,5.08,78.8,5.11,85.8],
[2,6.71,80.5,6.83,70,6.78,61,6.78,52.5,6.71,44.6,6.68,61,6.61,70],
[3,2.8,-4,2.8,80,3,83,3.12,91,3.3,97,3.5,100,4,104,4.3,100,4.6,93.7,4.72,85,4.72,70,4.62,57,4.5,47,4.25,46.8,4.2,26,4.1,2.5,3.9,-4],
[4,3.3,0.5,3.16,4.3,3.18,40,3.17,70,3.26,90,3.42,97,3.65,100.3,4,104,4.25,96,4.5,79.7,4.5,72,4.32,68,4.26,66,4.2,50,4.12,25,4.08,5,3.95,0.8],
[5,3.45,1,3.26,4.5,3.25,40,3.22,75,3.3,90,3.5,97,3.8,100,4.05,98,4.2,88,4.25,70,4.1,50,4.04,20,4.02,5,3.9,1],
[6,3.6,1.5,3.37,3.4,3.34,43.7,3.27,75,3.32,90,3.51,96,3.81,99.6,4.1,99,4.2,87.5,4.18,78.8,4.05,52.5,4,17,3.93,3.4],
[7,3.48,14.4,3.61,15.2,3.71,11.6,3.83,21.8,3.98,43.7,4.1,78.8,4.09,97,3.91,99.6,3.61,96,3.37,90,3.37,61,3.43,35],
[8,3.71,28.8,3.51,36.7,3.44,57,3.44,74,3.66,89,3.81,97,3.96,99.6,4.07,97,4.03,83,3.91,61,3.83,35],
[9,3.71,44,3.49,55,3.49,67.4,3.71,85,3.83,96.3,3.98,99.6,4.05,96.3,3.98,78.8,3.83,49],
[10,3.71,57,3.65,63,3.66,68,3.82,75,3.83,61],
[10,3.83,88,3.86,95.4,3.93,99.4,4.03,96.3,3.96,92.8,3.88,90],
[11,3.81,95,3.86,99.4,3.93,99.6,4.02,96.3,3.96,93.5,3.86,93.7],
[12,3.91,96.8,3.93,97.4,3.97,96.3,3.93,95.3]
];
const contours12=[
[1,2.8,-4,2.8,104,5.6,104,5.72,100,5.87,96.3,5.72,88.4,5.47,86,5.35,85.4,5.3,79.7,5.38,70,5.33,43.7,5.33,8.7,5.18,0.8,5.1,-4],
[0,3.02,-4,3.1,2,3.22,7.9,3.32,39.4,3.39,61,3.59,77,3.76,79.7,3.91,74.6,3.95,68,3.87,45,3.85,8.7,3.85,-4],
[1,6.65,8.7,6.67,61,6.85,83,7.17,95.6,7.31,87.5,7.31,8.7,7.14,1.7,6.92,0.4,6.7,2.5],
[1,5.9,39.4,5.99,44,6.09,39.4,6.07,8.7,5.99,4.5,5.91,7],
[2,7,66,6.88,50,6.9,30,6.95,19,7.05,28,7.09,50,7.05,63],
[2,2.8,50,3,53,3.15,64,3.27,70,3.46,79,3.66,84.4,3.83,84.6,4.05,82.3,4.17,76,4.2,70,4.13,52.5,4,8.7,4.12,3,4.4,5,4.47,5,4.64,1.2,4.8,0.8,5,3.4,5.14,20,5.14,56,5.1,70,4.85,82.5,5.1,89,5.28,95,5.5,96.5,5.4,99,5.05,101,2.8,104],
[3,4.76,6.5,4.69,17.4,4.63,26,4.57,78.8,4.5,80.5,4.1,86.5,3.86,87.1,3.5,84.5,3.3,79.3,3.2,80.5,3.02,87.5,2.8,96,2.8,104,5.2,103,5.25,96,5.05,90,4.85,83,4.92,50,4.88,20,4.81,6.5],
[4,3.05,92,3.22,83,3.37,82.5,3.6,85.5,3.98,87.5,4.35,86,4.64,87,4.99,93,5.26,96.3,5.26,99,5.08,101,3,104,2.8,100],
[5,3.1,90,3.3,85.5,3.6,87.5,4,90,4.35,88,4.7,90,4.95,94,5.02,97,4.95,99.7,3,101,3,97],
[6,3.15,92,3.32,87,3.6,89,4,91.5,4.35,89.5,4.7,92,4.9,95,4.92,97.3,4.85,99.7,3.1,100.5,3.08,97],
[7,3.16,95,3.3,88.8,3.6,90,4,92.5,4.35,90.8,4.65,92.8,4.85,96,4.75,99.5,3.2,100],
[8,3.18,96,3.33,90.2,3.6,91,4,93.3,4.35,92,4.6,93.6,4.75,96.5,4.65,99.3,3.25,100],
[9,3.2,96.5,3.35,91.2,3.6,92,4,94,4.3,93,4.55,94.4,4.67,96.7,4.55,99,3.3,99.9],
[10,3.22,97,3.37,92,3.65,92.8,4,94.7,4.3,93.8,4.5,95,4.6,96.8,4.5,98.8,3.35,99.8],
[11,3.25,97,3.4,92.8,3.7,93.5,4,95.3,4.28,94.5,4.45,95.6,4.52,96.9,4.4,98.6,4,98.3,3.4,99.6],
[12,3.28,97,3.42,93.4,3.7,94,3.93,95.8,3.93,98,3.45,99.3],
[12,4.05,96.8,4.28,94.9,4.42,96.3,4.4,97.9,4.2,98.5,4.05,97.9],
[13,3.3,96.8,3.45,94,3.7,94.5,3.88,96.5,3.78,98.4,3.42,99],
[13,4.12,96.9,4.27,95.4,4.37,96.7,4.3,98,4.2,98.2],
[14,3.33,96.8,3.48,94.5,3.7,94.9,3.83,96.8,3.72,98.2,3.45,98.7],
[15,3.38,96.7,3.52,95,3.72,95.3,3.78,96.9,3.65,98,3.45,98.2]
];

const allContours=[contours1,contours2,contours3,contours4,contours5,contours6,contours7,contours8,contours9,contours10,contours11,contours12];
const allTicks=[cbTicks1,cbTicks2,cbTicks3,cbTicks4,cbTicks5,cbTicks6,cbTicks7,cbTicks8,cbTicks9,cbTicks10,cbTicks11,cbTicks12];

// layout (pixels)
const rowTop=[9.5,466,922,1379.3];
const plotH=380.5;
const colLeft=[[58.5,527.3,996.3],[58.5,527.3,996.3],[58.5,527.3,996.3],[58.5,518.3,978.3]];
const plotW=306.3, cbGap=19.2, cbW=19;

const BLUES=[[247,251,255],[222,235,247],[198,219,239],[158,202,225],[107,174,214],[66,146,198],[33,113,181],[8,81,156],[8,48,107]];
function blues(t){const p=t*8,i=Math.min(7,Math.floor(p)),f=p-i,a=BLUES[i],b=BLUES[i+1];
  return 'rgb('+a.map((v,k)=>Math.round(v+(b[k]-v)*f)).join(',')+')';}
const FONT='"DejaVu Sans"';
const grids=[],xAxes=[],yAxes=[],series=[];
allContours.forEach((cs,p)=>{
  const r=Math.floor(p/3),c=p%3,L=colLeft[r][c],T=rowTop[r];
  const n=cbBands[p],step=cbStep[p],top=n*step,color=i=>blues((i+0.5)/n);
  const gi=grids.length;
  grids.push({left:L,top:T,width:plotW,height:plotH,show:false});
  grids.push({left:L+plotW+cbGap,top:T,width:cbW,height:plotH,show:false});
  xAxes.push({gridIndex:gi,type:'value',min:3,max:7.5,z:10,
    name:r===3?'[CII]/CO':'',nameLocation:'middle',nameGap:22,nameTextStyle:{fontFamily:FONT,fontSize:13.5,color:'#222'},
    axisLine:{show:true,onZero:false,lineStyle:{color:'#8a8a8a',width:1.5}},
    axisTick:{show:true,length:3.5,customValues:xTicks,lineStyle:{color:'#333',width:1}},
    axisLabel:{customValues:xTicks,fontFamily:FONT,fontSize:11,color:'#222',margin:6},
    splitLine:{show:false}});
  yAxes.push({gridIndex:gi,type:'value',min:0,max:100,z:10,
    name:'f_coll,H2([CII]) [%]',nameLocation:'middle',nameGap:35,nameRotate:90,nameTextStyle:{fontFamily:FONT,fontSize:13.5,color:'#222'},
    axisLine:{show:false,onZero:false},
    axisTick:{show:true,length:3.5,customValues:yTicks,lineStyle:{color:'#333',width:1}},
    axisLabel:{customValues:yTicks,fontFamily:FONT,fontSize:11,color:'#222',margin:6},
    splitLine:{show:false}});
  xAxes.push({gridIndex:gi+1,type:'value',min:0,max:1,show:false,splitLine:{show:false}});
  const ticks=allTicks[p],dig=cbDigits[p];
  yAxes.push({gridIndex:gi+1,type:'value',min:0,max:top,position:'right',z:10,
    axisLine:{show:false,onZero:false},
    axisTick:{show:true,length:3,customValues:ticks,lineStyle:{color:'#333',width:1}},
    axisLabel:{customValues:ticks,fontFamily:FONT,fontSize:9.7,color:'#222',margin:5,formatter:v=>Number(v).toFixed(dig)},
    splitLine:{show:false}});
  const bg=[[0,2.8,-4,2.8,104,7.9,104,7.9,-4]].concat(cs);
  series.push({type:'custom',xAxisIndex:gi,yAxisIndex:gi,clip:true,silent:true,z:2,
    data:bg.map((_,i)=>[i]),
    renderItem:(params,api)=>{
      const k=bg[params.dataIndex],pts=[];
      for(let i=1;i<k.length;i+=2)pts.push(api.coord([k[i],k[i+1]]));
      return {type:'polygon',shape:{points:pts,smooth:params.dataIndex===0?0:0.28},style:{fill:color(k[0])}};
    }});
  series.push({type:'custom',xAxisIndex:gi,yAxisIndex:gi,clip:false,silent:true,z:5,data:[[0]],
    renderItem:(params,api)=>{
      const a=api.coord([3,100]),b=api.coord([7.5,0]),t=api.coord([6.95,8.4]);
      return {type:'group',children:[
        {type:'rect',shape:{x:a[0],y:a[1],width:b[0]-a[0],height:b[1]-a[1]},style:{fill:'none',stroke:'#3a3a3a',lineWidth:1}},
        {type:'text',style:{x:t[0],y:t[1]+5,text:labels[p],font:'23px "Liberation Serif"',fill:'#000',textAlign:'left',verticalAlign:'bottom'}}
      ]};
    }});
  series.push({type:'custom',xAxisIndex:gi+1,yAxisIndex:gi+1,clip:false,silent:true,z:2,
    data:Array.from({length:n},(_,i)=>[i]),
    renderItem:(params,api)=>{
      const i=params.dataIndex,a=api.coord([0,(i+1)*step]),b=api.coord([1,i*step]);
      return {type:'rect',shape:{x:a[0],y:a[1],width:b[0]-a[0],height:b[1]-a[1]},style:{fill:color(i)}};
    }});
  series.push({type:'custom',xAxisIndex:gi+1,yAxisIndex:gi+1,clip:false,silent:true,z:5,data:[[0]],
    renderItem:(params,api)=>{
      const a=api.coord([0,top]),b=api.coord([1,0]);
      return {type:'rect',shape:{x:a[0],y:a[1],width:b[0]-a[0],height:b[1]-a[1]},style:{fill:'none',stroke:'#777',lineWidth:1.3}};
    }});
});
const chart=echarts.init(document.getElementById('c'),null,{renderer:'canvas'});
chart.setOption({animation:false,backgroundColor:'#fff',grid:grids,xAxis:xAxes,yAxis:yAxes,series:series});
</script></body></html>
